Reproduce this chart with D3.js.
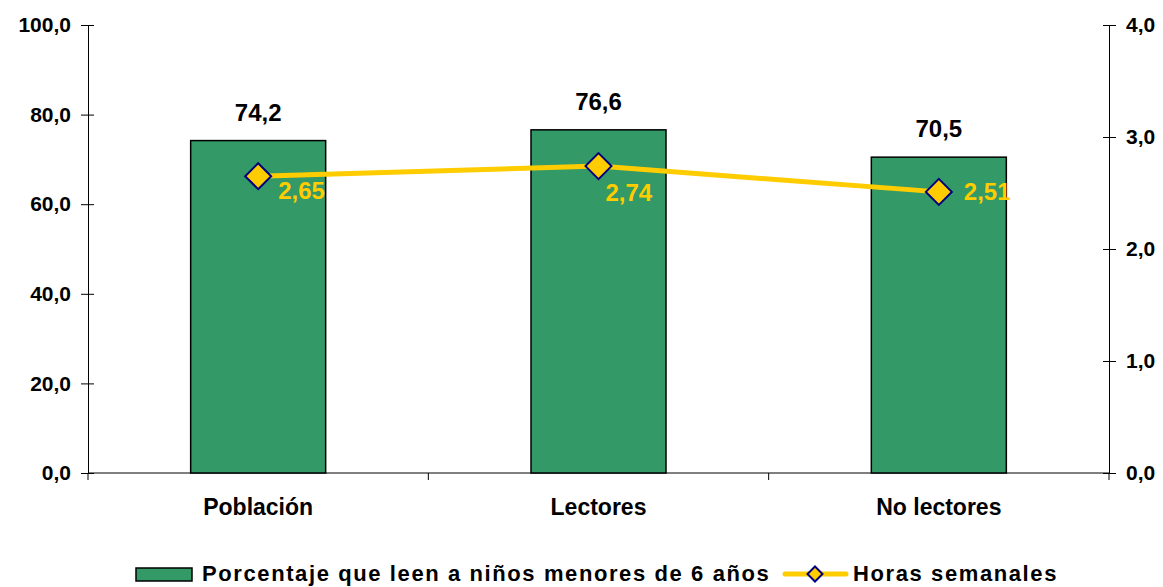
<!DOCTYPE html>
<html><head><meta charset="utf-8">
<script src="https://cdn.jsdelivr.net/npm/d3@7"></script>
<style>body{margin:0;background:#fff;font-family:Arial,"Liberation Sans",sans-serif;}</style>
</head><body><svg id="c" width="1163" height="587"></svg>
<script>
const categories = ["Población","Lectores","No lectores"];
const porcentaje = [74.2,76.6,70.5];
const horas = [2.65,2.74,2.51];
const leftTicks = [0,20,40,60,80,100];
const rightTicks = [0,1,2,3,4];
const seriesNames = ["Porcentaje que leen a niños menores de 6 años","Horas semanales"];

const svg = d3.select("#c");
const L=88, R=1109, T=25, B=473;
const xc = d3.scalePoint().domain(categories).range([L,R]).padding(0.5);
const y = d3.scaleLinear().domain([0,100]).range([B,T]);
const y2 = d3.scaleLinear().domain([0,4]).range([B,T]);
const fmt1 = d => d.toFixed(1).replace(".",",");
const fmt2 = d => d.toFixed(2).replace(".",",");
// label placement (layout), per point
const lineLabelOffset = [[20,23],[7,35],[25,8]];

const gl = svg.append("g").attr("transform",`translate(${L},0)`)
  .call(d3.axisLeft(y).tickValues(leftTicks).tickFormat(fmt1).tickSizeInner(7).tickSizeOuter(0).tickPadding(10));
gl.selectAll(".tick line").attr("x2",6).attr("x1",-7);
const gr = svg.append("g").attr("transform",`translate(${R},0)`)
  .call(d3.axisRight(y2).tickValues(rightTicks).tickFormat(fmt1).tickSizeInner(7).tickSizeOuter(0).tickPadding(10));
gr.selectAll(".tick line").attr("x1",-6).attr("x2",7);
[gl,gr].forEach(g=>{
  g.select(".domain").attr("stroke","#000");
  g.selectAll(".tick line").attr("stroke","#000");
  g.selectAll(".tick text").attr("font-size",21).attr("font-weight","bold").attr("fill","#000").attr("font-family","Arial");
});
const step = (R-L)/categories.length;
const gb = svg.append("g");
gb.append("line").attr("x1",L).attr("x2",R).attr("y1",B).attr("y2",B).attr("stroke","#000");
d3.range(categories.length+1).forEach(i=>{
  gb.append("line").attr("x1",L+i*step).attr("x2",L+i*step).attr("y1",B).attr("y2",B+7).attr("stroke","#000");
});
gb.selectAll("text.cat").data(categories).join("text").attr("class","cat")
  .attr("x",d=>xc(d)).attr("y",515).attr("text-anchor","middle")
  .attr("font-size",23).attr("font-weight","bold").text(d=>d);

const bw = 135;
svg.selectAll("rect.bar").data(categories).join("rect").attr("class","bar")
  .attr("x",d=>xc(d)-bw/2).attr("width",bw)
  .attr("y",(d,i)=>y(porcentaje[i])).attr("height",(d,i)=>B-y(porcentaje[i]))
  .attr("fill","#339966").attr("stroke","#000").attr("stroke-width",1.5);
svg.selectAll("text.bl").data(categories).join("text").attr("class","bl")
  .attr("x",d=>xc(d)).attr("y",(d,i)=>y(porcentaje[i])-20).attr("text-anchor","middle")
  .attr("font-size",24).attr("font-weight","bold").text((d,i)=>fmt1(porcentaje[i]));

const line = d3.line().x((d,i)=>xc(categories[i])).y(d=>y2(d));
svg.append("path").datum(horas).attr("d",line).attr("fill","none").attr("stroke","#FFCC00").attr("stroke-width",5);
const dm = 13;
svg.selectAll("path.dm").data(horas).join("path").attr("class","dm")
  .attr("d",(d,i)=>{const cx=xc(categories[i]), cy=y2(d);return `M${cx},${cy-dm}L${cx+dm},${cy}L${cx},${cy+dm}L${cx-dm},${cy}Z`;})
  .attr("fill","#FFCC00").attr("stroke","#000080").attr("stroke-width",2);
svg.selectAll("text.ll").data(horas).join("text").attr("class","ll")
  .attr("x",(d,i)=>xc(categories[i])+lineLabelOffset[i][0]).attr("y",(d,i)=>y2(d)+lineLabelOffset[i][1])
  .attr("font-size",24).attr("font-weight","bold").attr("fill","#FFCC00").text(d=>fmt2(d));

const lg = svg.append("g").attr("transform","translate(0,-3)");
lg.append("rect").attr("x",136).attr("y",571).attr("width",56).attr("height",13).attr("fill","#339966").attr("stroke","#000").attr("stroke-width",1.5);
lg.append("text").attr("x",202).attr("y",584).attr("font-size",22).attr("font-weight","bold").attr("letter-spacing","1.6px").text(seriesNames[0]);
lg.append("line").attr("x1",785).attr("x2",846).attr("y1",577).attr("y2",577).attr("stroke","#FFCC00").attr("stroke-width",5).attr("stroke-linecap","round");
lg.append("path").attr("d","M815,569.5L822.5,577L815,584.5L807.5,577Z").attr("fill","#FFCC00").attr("stroke","#000080").attr("stroke-width",2);
lg.append("text").attr("x",853).attr("y",584).attr("font-size",22).attr("font-weight","bold").attr("letter-spacing","1.6px").text(seriesNames[1]);
</script></body></html>
